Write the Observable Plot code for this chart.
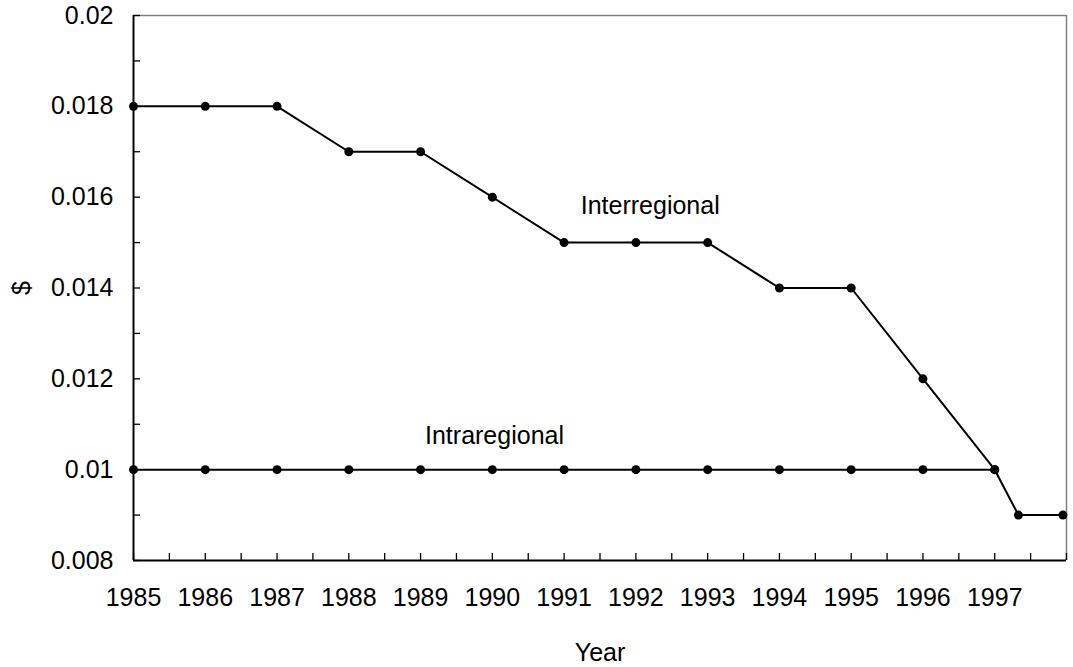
<!DOCTYPE html>
<html><head><meta charset="utf-8">
<script src="https://cdn.jsdelivr.net/npm/d3@7"></script>
<script src="https://cdn.jsdelivr.net/npm/@observablehq/plot@0.6"></script>
<style>body{margin:0;background:#fff;} svg{display:block}</style>
</head><body><div id="chart"></div>
<script>
const interYears = [1985, 1986, 1987, 1988, 1989, 1990, 1991, 1992, 1993, 1994, 1995, 1996, 1997, 1997.33, 1997.95];
const interValues = [0.018, 0.018, 0.018, 0.017, 0.017, 0.016, 0.015, 0.015, 0.015, 0.014, 0.014, 0.012, 0.010, 0.009, 0.009];
const intraYears = [1985, 1986, 1987, 1988, 1989, 1990, 1991, 1992, 1993, 1994, 1995, 1996, 1997];
const intraValues = [0.010, 0.010, 0.010, 0.010, 0.010, 0.010, 0.010, 0.010, 0.010, 0.010, 0.010, 0.010, 0.010];
const xTickValues = [1985, 1986, 1987, 1988, 1989, 1990, 1991, 1992, 1993, 1994, 1995, 1996, 1997];
const xTickLabels = ["1985", "1986", "1987", "1988", "1989", "1990", "1991", "1992", "1993", "1994", "1995", "1996", "1997"];
const xMinorTicks = [1985, 1985.5, 1986, 1986.5, 1987, 1987.5, 1988, 1988.5, 1989, 1989.5, 1990, 1990.5, 1991, 1991.5, 1992, 1992.5, 1993, 1993.5, 1994, 1994.5, 1995, 1995.5, 1996, 1996.5, 1997, 1997.5, 1998];
const yTickValues = [0.008, 0.010, 0.012, 0.014, 0.016, 0.018, 0.020];
const yTickLabels = ["0.008", "0.01", "0.012", "0.014", "0.016", "0.018", "0.02"];
const yMinorTicks = [0.008, 0.009, 0.010, 0.011, 0.012, 0.013, 0.014, 0.015, 0.016, 0.017, 0.018, 0.019, 0.020];
const seriesNames = ["Interregional", "Intraregional"];
const seriesLabelX = [1992.2, 1990.03];
const seriesLabelY = [0.0158, 0.01075];
const xDomain = [1985, 1998];
const yDomain = [0.008, 0.020];

const W = 1073, H = 667, mL = 133, mR = 7, mT = 15, mB = 107;
const fw = W - mL - mR, fh = H - mT - mB;
const font = "'Liberation Sans', Arial, sans-serif";
const fs = 25;

const inter = interYears.map((x, i) => ({x, y: interValues[i]}));
const intra = intraYears.map((x, i) => ({x, y: intraValues[i]}));
const labels = seriesNames.map((t, i) => ({t, x: seriesLabelX[i], y: seriesLabelY[i]}));

const chart = Plot.plot({
  width: W, height: H,
  marginLeft: mL, marginRight: mR, marginTop: mT, marginBottom: mB,
  style: {fontFamily: font, fontSize: fs + "px", background: "#fff", color: "#000", overflow: "visible"},
  x: {domain: xDomain},
  y: {domain: yDomain},
  marks: [
    Plot.ruleY([yDomain[1]], {stroke: "#808080", strokeWidth: 1.5}),
    Plot.ruleX([xDomain[1]], {stroke: "#808080", strokeWidth: 1.5}),
    Plot.ruleX(xMinorTicks, {x: d => d, insetTop: fh - 7, stroke: "#000", strokeWidth: 1.3}),
    Plot.ruleY(yMinorTicks, {y: d => d, insetRight: fw - 7, stroke: "#000", strokeWidth: 1.3}),
    Plot.ruleX([xDomain[0]], {stroke: "#000", strokeWidth: 2}),
    Plot.ruleY([yDomain[0]], {stroke: "#000", strokeWidth: 2}),
    Plot.axisX({ticks: xTickValues, tickSize: 0, tickPadding: 28, tickFormat: d => xTickLabels[xTickValues.indexOf(d)], label: null, fontSize: fs}),
    Plot.axisY({ticks: yTickValues, tickSize: 0, tickPadding: 20, tickFormat: d => yTickLabels[yTickValues.indexOf(d)], label: null, fontSize: fs}),
    Plot.line(intra, {x: "x", y: "y", stroke: "#000", strokeWidth: 2}),
    Plot.line(inter, {x: "x", y: "y", stroke: "#000", strokeWidth: 2}),
    Plot.dot(intra, {x: "x", y: "y", r: 4.5, fill: "#000"}),
    Plot.dot(inter, {x: "x", y: "y", r: 4.5, fill: "#000"}),
    Plot.text(labels, {x: "x", y: "y", text: "t", fontSize: fs, fill: "#000"}),
    Plot.text(["Year"], {frameAnchor: "bottom", dy: 92, lineAnchor: "middle", textAnchor: "middle", fontSize: fs, fill: "#000"}),
    Plot.text(["$"], {frameAnchor: "left", dx: -112, rotate: -90, lineAnchor: "middle", textAnchor: "middle", fontSize: fs, fill: "#000"})
  ]
});
document.getElementById("chart").appendChild(chart);
</script>
</body></html>
